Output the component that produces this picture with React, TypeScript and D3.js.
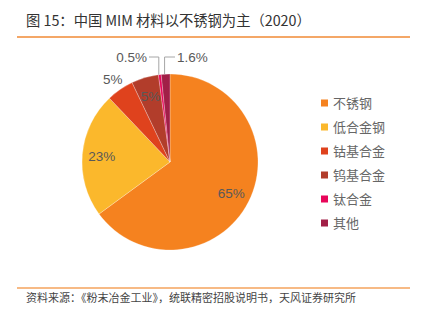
import React from "react";
import * as d3 from "d3";

const categories = ["不锈钢", "低合金钢", "钴基合金", "钨基合金", "钛合金", "其他"];
const values = [65, 23, 5, 5, 0.5, 1.6];
const labels = ["65%", "23%", "5%", "5%", "0.5%", "1.6%"];
const colors = ["#F5821F", "#FBB82C", "#DF421D", "#B23D2B", "#E8065A", "#A11F47"];

const W = 423;
const H = 324;
const cx = 170;
const cy = 162;
const R = 88;

export default function App() {
  const pie = d3.pie<number>().sort(null).value((d) => d);
  const arcs = pie(values);
  const arc = d3.arc<d3.PieArcDatum<number>>().innerRadius(0).outerRadius(R);
  const labelArc = d3.arc<d3.PieArcDatum<number>>().innerRadius(R * 0.78).outerRadius(R * 0.78);
  const outerArc = d3.arc<d3.PieArcDatum<number>>().innerRadius(R + 13).outerRadius(R + 13);
  const edge = d3.arc<d3.PieArcDatum<number>>().innerRadius(R).outerRadius(R);
  const font = "'Liberation Sans', Arial, 'Noto Sans CJK SC', sans-serif";
  const cjk = "'Noto Sans CJK SC', sans-serif";
  const legendY = d3.scaleBand<string>().domain(categories).range([91, 235]);

  return (
    <svg width={W} height={H} style={{ position: "absolute", left: 0, top: 0, background: "#fff" }}>
      <text x={26} y={26} fontFamily={cjk} fontSize={14.3} fill="#333">
        图 15：中国 MIM 材料以不锈钢为主（2020）
      </text>
      <line x1={17} x2={410} y1={37} y2={37} stroke="#F08A35" strokeWidth={1.5} />
      <g transform={`translate(${cx},${cy})`}>
        {arcs.map((a, i) => (
          <path key={i} d={arc(a) as string} fill={colors[i]} stroke="#ffffff" strokeOpacity={0.5} strokeWidth={0.5} />
        ))}
        {arcs.map((a, i) => {
          if (i === 0 || i === 1 || i === 3) {
            const [x, y] = labelArc.centroid(a);
            return (
              <text key={"l" + i} x={x} y={y} dy="0.35em" textAnchor="middle" fontFamily={font} fontSize={13.5} fill="#595959">
                {labels[i]}
              </text>
            );
          }
          if (i === 2) {
            const [x, y] = outerArc.centroid(a);
            return (
              <text key={"l" + i} x={x} y={y} dy="0.35em" textAnchor="middle" fontFamily={font} fontSize={13.5} fill="#595959">
                {labels[i]}
              </text>
            );
          }
          const [ex, ey] = edge.centroid(a);
          const left = i === 4;
          const bx = ex - 1;
          const topY = -105;
          const tx = left ? -21 : 5;
          return (
            <g key={"l" + i}>
              <polyline
                points={`${bx},${ey} ${bx},${topY} ${tx},${topY}`}
                fill="none"
                stroke="#A6A6A6"
                strokeWidth={1}
              />
              <text x={left ? tx - 2 : tx + 2} y={topY} dy="0.35em" textAnchor={left ? "end" : "start"} fontFamily={font} fontSize={13.5} fill="#595959">
                {labels[i]}
              </text>
            </g>
          );
        })}
      </g>
      {categories.map((c, i) => {
        const y = (legendY(c) as number) + legendY.bandwidth() / 2;
        return (
          <g key={c}>
            <rect x={321} y={y - 3.5} width={7} height={7} fill={colors[i]} />
            <text x={333} y={y} dy="0.36em" fontFamily={cjk} fontSize={13} fill="#666">
              {c}
            </text>
          </g>
        );
      })}
      <line x1={17} x2={410} y1={288} y2={288} stroke="#F5A35C" strokeWidth={1.5} />
      <text x={26} y={302} fontFamily={cjk} fontSize={11} fill="#444">
        资料来源：《粉末冶金工业》，统联精密招股说明书，天风证券研究所
      </text>
    </svg>
  );
}
